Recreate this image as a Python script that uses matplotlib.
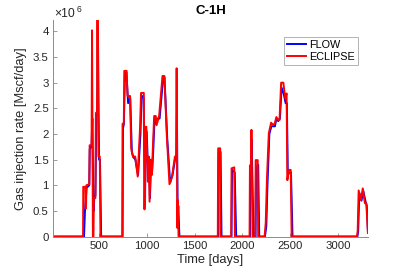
import matplotlib
matplotlib.use("Agg")
import matplotlib.pyplot as plt

# ── data (rates in 1e6 Mscf/day) ─────────────────────────────
eclipse_days = [20, 335, 337, 358, 362, 366, 370, 400, 404, 424, 429, 438, 444, 448,
                464, 469, 481, 486, 496, 510, 517, 745, 748, 761, 766, 790, 800, 826,
                838, 856, 880, 906, 931, 941, 970, 977, 988, 996, 1012, 1022, 1030,
                1043, 1054, 1064, 1078, 1095, 1103, 1130, 1165, 1185, 1210, 1238,
                1265, 1295, 1308, 1313, 1320, 1326, 1333, 1743, 1747, 1768, 1772,
                1883, 1887, 1915, 1922, 2075, 2079, 2090, 2095, 2106, 2134, 2139,
                2160, 2165, 2232, 2244, 2257, 2276, 2300, 2320, 2338, 2355, 2372,
                2388, 2405, 2428, 2448, 2462, 2470, 2485, 2505, 2515, 3198, 3205,
                3215, 3240, 3258, 3280, 3295, 3312]
eclipse_rate = [0, 0, 0.97, 0.97, 0.55, 0.55, 1.0, 1.02, 1.78, 1.78, 4.02, 0, 0, 0.75,
                0.75, 2.41, 2.41, 4.22, 1.56, 1.56, 0, 0, 2.2, 2.2, 3.23, 3.23, 2.74,
                2.74, 1.72, 1.56, 1.56, 1.17, 2.14, 2.8, 2.8, 0.53, 2.14, 2.14, 1.07,
                1.56, 0.68, 1.5, 1.2, 1.7, 2.35, 2.35, 2.17, 2.35, 3.13, 3.13, 1.98,
                1.02, 1.17, 1.56, 1.56, 3.28, 0.17, 0.71, 0, 0, 1.72, 1.72, 0,
                0, 1.33, 1.35, 0, 0, 1.39, 1.39, 2.08, 0, 0, 1.49,
                1.49, 0, 0, 0.27, 1.14, 2.01, 2.22, 2.18, 2.2, 2.33, 2.28,
                2.27, 3.0, 3.0, 2.69, 2.79, 1.1, 1.3, 1.3, 0, 0, 0.12,
                0.9, 0.71, 0.94, 0.65, 0.65, 0.07]

flow_days = [20, 345, 355, 372, 400, 405, 424, 432, 440, 446, 452, 464, 474, 484, 490,
             502, 512, 524, 748, 752, 762, 772, 788, 806, 828, 845, 860, 882, 910, 935,
             946, 968, 982, 992, 1000, 1018, 1026, 1034, 1046, 1056, 1068, 1082, 1095,
             1105, 1135, 1170, 1186, 1215, 1245, 1270, 1300, 1310, 1316, 1324, 1330,
             1342, 1748, 1752, 1772, 1782, 1886, 1892, 1920, 1935, 2079, 2084, 2092,
             2097, 2106, 2116, 2138, 2143, 2165, 2176, 2236, 2250, 2262, 2282, 2303,
             2322, 2340, 2356, 2374, 2392, 2410, 2430, 2452, 2465, 2475, 2490, 2508,
             2524, 3202, 3210, 3222, 3245, 3262, 3285, 3300, 3312]
flow_rate = [0, 0, 0.5, 0.95, 1.0, 1.7, 1.78, 2.3, 1.0, 0.5, 0.75, 0.8, 2.35, 2.5, 4.1,
             1.5, 1.5, 0, 0, 2.1, 2.2, 3.15, 3.2, 2.6, 2.7, 1.65, 1.55, 1.5, 1.2, 2.0,
             2.75, 2.7, 0.6, 2.05, 2.05, 1.1, 1.5, 0.75, 1.45, 1.25, 1.65, 2.3, 2.2,
             2.3, 2.3, 3.05, 3.1, 1.9, 1.05, 1.2, 1.55, 1.55, 2.4, 0.3, 0.6,
             0, 0, 1.65, 1.65, 0, 0, 1.3, 1.25, 0, 0, 1.35, 1.35,
             1.9, 1.0, 0, 0, 1.35, 1.4, 0, 0, 0.2, 1.0, 2.0, 2.15,
             2.15, 2.15, 2.3, 2.25, 2.3, 2.9, 2.8, 2.6, 2.6, 1.2, 1.25, 1.25,
             0, 0, 0.1, 0.85, 0.7, 0.9, 0.7, 0.6, 0.1]

xticks = [500, 1000, 1500, 2000, 2500, 3000]
yticks = [0, 0.5, 1, 1.5, 2, 2.5, 3, 3.5, 4]

plt.rcParams["font.family"] = ["Liberation Sans", "DejaVu Sans"]

AXC = "#262626"
SPINE = "#8c8c8c"

fig = plt.figure(figsize=(4.07, 2.71), dpi=100)
ax = fig.add_axes([0.130, 0.127, 0.774, 0.799])

ax.plot(flow_days, flow_rate, color="#0000ff", linewidth=1.4, label="FLOW")
ax.plot(eclipse_days, eclipse_rate, color="#ff0000", linewidth=1.4, label="ECLIPSE")

ax.set_xlim(20, 3312)
ax.set_ylim(0, 4.22)
ax.set_xticks(xticks)
ax.set_yticks(yticks)
ax.set_yticklabels([f"{t:g}" for t in yticks])

for s in ("top", "right"):
    ax.spines[s].set_visible(False)
for s in ("left", "bottom"):
    ax.spines[s].set_color(SPINE)
    ax.spines[s].set_linewidth(0.7)
ax.tick_params(direction="in", length=3, width=0.6, color=SPINE,
               labelsize=8.2, labelcolor=AXC, pad=3)

ax.set_xlabel("Time [days]", fontsize=9.3, color=AXC, labelpad=2)
ax.set_ylabel("Gas injection rate [Mscf/day]", fontsize=9.3, color=AXC, labelpad=4)
ax.set_title("C-1H", fontsize=9.5, fontweight="bold", color="black", pad=4)

# MATLAB-style exponent label above the y axis
fig.text(54 / 407, 1 - 17 / 271, "×10", fontsize=8.8, color=AXC, ha="left", va="baseline")
fig.text(77 / 407, 1 - 11.5 / 271, "6", fontsize=6.2, color=AXC, ha="left", va="baseline")

leg = ax.legend(loc="upper right", bbox_to_anchor=(0.969, 0.923), borderaxespad=0,
                fontsize=7.8, frameon=True, fancybox=False, handlelength=1.7,
                handletextpad=0.3, borderpad=0.3, labelspacing=0.15)
leg.get_frame().set_edgecolor("#a0a0a0")
leg.get_frame().set_linewidth(0.7)

fig.savefig("out.png", dpi=100, facecolor="white")
